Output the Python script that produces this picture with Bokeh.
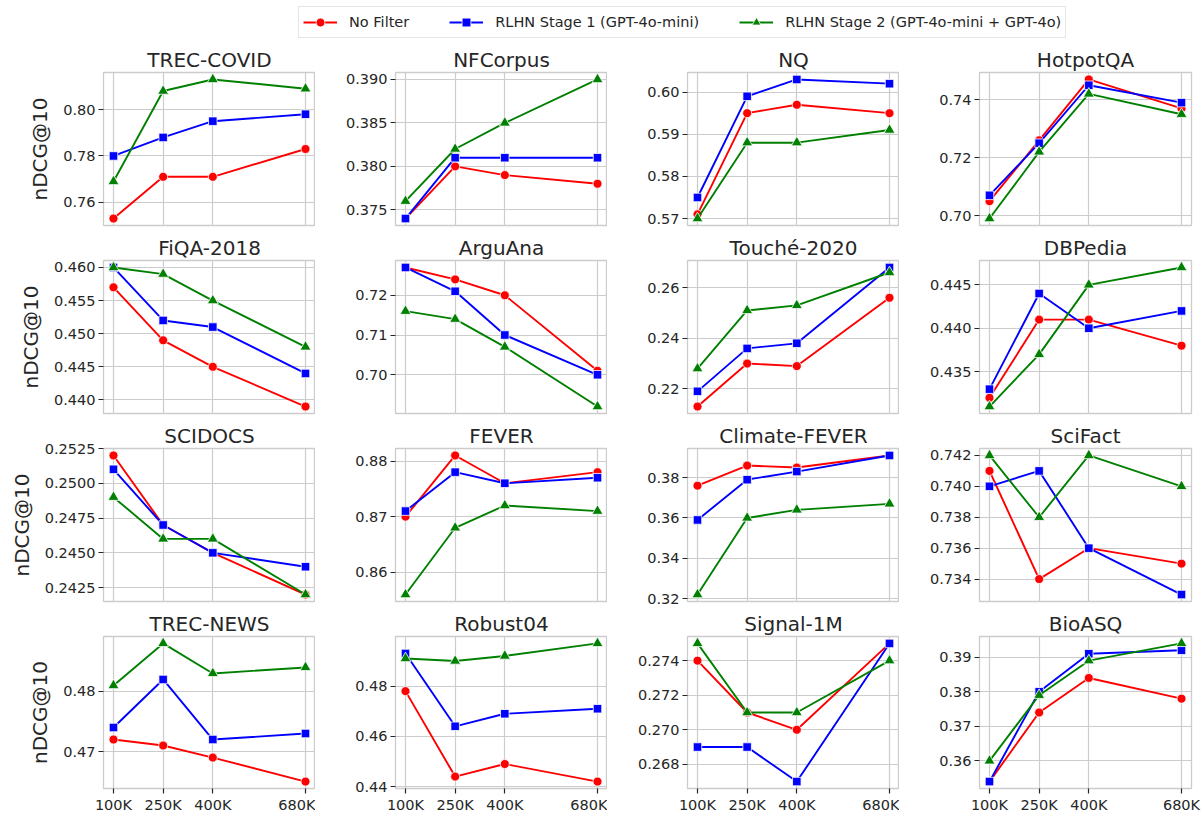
from bokeh.plotting import figure
from bokeh.layouts import gridplot, column
from bokeh.models import Range1d, DataRange1d, FixedTicker, Legend, LegendItem
from bokeh.embed import file_html
from bokeh.resources import INLINE

# ---------------- data ----------------
sizes = [100, 250, 400, 680]
size_labels = ["100K", "250K", "400K", "680K"]

datasets = ["TREC-COVID", "NFCorpus", "NQ", "HotpotQA",
            "FiQA-2018", "ArguAna", "Touché-2020", "DBPedia",
            "SCIDOCS", "FEVER", "Climate-FEVER", "SciFact",
            "TREC-NEWS", "Robust04", "Signal-1M", "BioASQ"]

no_filter = {
    "TREC-COVID": [0.753, 0.771, 0.771, 0.783],
    "NFCorpus": [0.374, 0.380, 0.379, 0.378],
    "NQ": [0.571, 0.595, 0.597, 0.595],
    "HotpotQA": [0.705, 0.726, 0.747, 0.737],
    "FiQA-2018": [0.457, 0.449, 0.445, 0.439],
    "ArguAna": [0.727, 0.724, 0.720, 0.701],
    "Touché-2020": [0.213, 0.230, 0.229, 0.256],
    "DBPedia": [0.432, 0.441, 0.441, 0.438],
    "SCIDOCS": [0.252, 0.247, 0.245, 0.242],
    "FEVER": [0.870, 0.881, 0.876, 0.878],
    "Climate-FEVER": [0.376, 0.386, 0.385, 0.391],
    "SciFact": [0.741, 0.734, 0.736, 0.735],
    "TREC-NEWS": [0.472, 0.471, 0.469, 0.465],
    "Robust04": [0.478, 0.444, 0.449, 0.442],
    "Signal-1M": [0.274, 0.271, 0.270, 0.275],
    "BioASQ": [0.354, 0.374, 0.384, 0.378],
}

stage1 = {
    "TREC-COVID": [0.780, 0.788, 0.795, 0.798],
    "NFCorpus": [0.374, 0.381, 0.381, 0.381],
    "NQ": [0.575, 0.599, 0.603, 0.602],
    "HotpotQA": [0.707, 0.725, 0.745, 0.739],
    "FiQA-2018": [0.460, 0.452, 0.451, 0.444],
    "ArguAna": [0.727, 0.721, 0.710, 0.700],
    "Touché-2020": [0.219, 0.236, 0.238, 0.268],
    "DBPedia": [0.433, 0.444, 0.440, 0.442],
    "SCIDOCS": [0.251, 0.247, 0.245, 0.244],
    "FEVER": [0.871, 0.878, 0.876, 0.877],
    "Climate-FEVER": [0.359, 0.379, 0.383, 0.391],
    "SciFact": [0.740, 0.741, 0.736, 0.733],
    "TREC-NEWS": [0.474, 0.482, 0.472, 0.473],
    "Robust04": [0.493, 0.464, 0.469, 0.471],
    "Signal-1M": [0.269, 0.269, 0.267, 0.275],
    "BioASQ": [0.354, 0.380, 0.391, 0.392],
}

stage2 = {
    "TREC-COVID": [0.769, 0.808, 0.813, 0.809],
    "NFCorpus": [0.376, 0.382, 0.385, 0.390],
    "NQ": [0.570, 0.588, 0.588, 0.591],
    "HotpotQA": [0.699, 0.722, 0.742, 0.735],
    "FiQA-2018": [0.460, 0.459, 0.455, 0.448],
    "ArguAna": [0.716, 0.714, 0.707, 0.692],
    "Touché-2020": [0.228, 0.251, 0.253, 0.266],
    "DBPedia": [0.431, 0.437, 0.445, 0.447],
    "SCIDOCS": [0.249, 0.246, 0.246, 0.242],
    "FEVER": [0.856, 0.868, 0.872, 0.871],
    "Climate-FEVER": [0.322, 0.360, 0.364, 0.367],
    "SciFact": [0.742, 0.738, 0.742, 0.740],
    "TREC-NEWS": [0.481, 0.488, 0.483, 0.484],
    "Robust04": [0.491, 0.490, 0.492, 0.497],
    "Signal-1M": [0.275, 0.271, 0.271, 0.274],
    "BioASQ": [0.360, 0.379, 0.389, 0.394],
}

y_tick_labels = {
    "TREC-COVID": ["0.76", "0.78", "0.80"],
    "NFCorpus": ["0.375", "0.380", "0.385", "0.390"],
    "NQ": ["0.57", "0.58", "0.59", "0.60"],
    "HotpotQA": ["0.70", "0.72", "0.74"],
    "FiQA-2018": ["0.440", "0.445", "0.450", "0.455", "0.460"],
    "ArguAna": ["0.70", "0.71", "0.72"],
    "Touché-2020": ["0.22", "0.24", "0.26"],
    "DBPedia": ["0.435", "0.440", "0.445"],
    "SCIDOCS": ["0.2425", "0.2450", "0.2475", "0.2500", "0.2525"],
    "FEVER": ["0.86", "0.87", "0.88"],
    "Climate-FEVER": ["0.32", "0.34", "0.36", "0.38"],
    "SciFact": ["0.734", "0.736", "0.738", "0.740", "0.742"],
    "TREC-NEWS": ["0.47", "0.48"],
    "Robust04": ["0.44", "0.46", "0.48"],
    "Signal-1M": ["0.268", "0.270", "0.272", "0.274"],
    "BioASQ": ["0.36", "0.37", "0.38", "0.39"],
}

series_names = ["No Filter", "RLHN Stage 1 (GPT-4o-mini)", "RLHN Stage 2 (GPT-4o-mini + GPT-4o)"]
series_data = [no_filter, stage1, stage2]
series_colors = ["#ff0000", "#0000ff", "#008000"]
series_markers = ["circle", "square", "triangle"]
series_sizes = [9, 8.5, 11]

# ---------------- styling ----------------
FONT = "DejaVu Sans"
TXT = "#262626"
GRID = "#cccccc"
TICK_FS = "14.5px"
PLOT_W = 212
PLOT_H = 156
TOP = 25
BOTTOM_MID = 7
BOTTOM_LAST = 26
COL_LEFT = [103, 80, 80, 80]
COL_RIGHT = [0, 0, 0, 10]
LEGEND_H = 44

figs = []
for i, name in enumerate(datasets):
    r, c = divmod(i, 4)
    last_row = (r == 3)
    bottom = BOTTOM_LAST if last_row else BOTTOM_MID
    w = COL_LEFT[c] + PLOT_W + COL_RIGHT[c]
    h = TOP + PLOT_H + bottom
    p = figure(width=w, height=h, output_backend="svg", toolbar_location=None,
               x_range=Range1d(69.8, 710.2), y_range=DataRange1d(range_padding=0.1),
               min_border_left=COL_LEFT[c], min_border_right=COL_RIGHT[c],
               min_border_top=TOP, min_border_bottom=bottom,
               title=name)
    p.title.align = "center"
    p.title.text_font = FONT
    p.title.text_font_size = "20px"
    p.title.text_font_style = "normal"
    p.title.text_color = TXT
    p.title.offset = 0
    p.title.standoff = 2
    p.background_fill_color = "white"
    p.border_fill_color = "white"
    p.outline_line_color = GRID
    p.outline_line_width = 1.3

    ticks = [float(t) for t in y_tick_labels[name]]
    p.yaxis.ticker = FixedTicker(ticks=ticks)
    p.yaxis.major_label_overrides = {float(t): t for t in y_tick_labels[name]}
    p.xaxis.ticker = FixedTicker(ticks=sizes)
    p.xaxis.major_label_overrides = {s: l for s, l in zip(sizes, size_labels)}
    for ax in (p.xaxis[0], p.yaxis[0]):
        ax.axis_line_color = None
        ax.major_tick_in = 0
        ax.major_tick_out = 5
        ax.major_tick_line_color = TXT
        ax.major_tick_line_width = 1.2
        ax.minor_tick_line_color = None
        ax.major_label_text_font = FONT
        ax.major_label_text_font_size = TICK_FS
        ax.major_label_text_color = TXT
        ax.major_label_standoff = 3
    if not last_row:
        p.xaxis.visible = False
    if c == 0:
        p.yaxis.axis_label = "nDCG@10"
        p.yaxis.axis_label_text_font = FONT
        p.yaxis.axis_label_text_font_size = "20px"
        p.yaxis.axis_label_text_font_style = "normal"
        p.yaxis.axis_label_text_color = TXT
        p.yaxis.axis_label_standoff = 8
    p.xgrid.grid_line_color = GRID
    p.ygrid.grid_line_color = GRID
    p.xgrid.grid_line_width = 1.2
    p.ygrid.grid_line_width = 1.2

    for data, col, mk, ms in zip(series_data, series_colors, series_markers, series_sizes):
        p.line(sizes, data[name], line_color=col, line_width=1.9)
        p.scatter(sizes, data[name], marker=mk, size=ms, fill_color=col,
                  line_color="white", line_width=0.8)
    figs.append(p)

grid = gridplot(figs, ncols=4, toolbar_location=None)

# ---------------- legend strip ----------------
total_w = sum(COL_LEFT) + 4 * PLOT_W + sum(COL_RIGHT)
lp = figure(width=total_w, height=LEGEND_H, output_backend="svg", toolbar_location=None,
            x_range=Range1d(0, 1), y_range=Range1d(0, 1),
            min_border=0, min_border_left=0, min_border_right=0,
            min_border_top=0, min_border_bottom=0)
lp.axis.visible = False
lp.grid.visible = False
lp.outline_line_color = None
items = []
for nm, col, mk, ms in zip(series_names, series_colors, series_markers, series_sizes):
    lr = lp.line([-5, -4], [-5, -4], line_color=col, line_width=1.9)
    sr = lp.scatter([-5], [-5], marker=mk, size=ms, fill_color=col,
                    line_color="white", line_width=0.8)
    items.append(LegendItem(label=nm, renderers=[lr, sr]))
leg = Legend(items=items, orientation="horizontal", location=(298, 6))
leg.label_text_font = FONT
leg.label_text_font_size = TICK_FS
leg.label_text_color = TXT
leg.border_line_color = GRID
leg.border_line_width = 1
leg.background_fill_color = "white"
leg.padding = 4
leg.spacing = 40
leg.margin = 0
leg.glyph_width = 34
leg.label_standoff = 12
leg.label_height = 16
leg.glyph_height = 22
lp.add_layout(leg, "center")

layout = column(lp, grid, spacing=0)

with open("out.html", "w") as f:
    f.write(file_html(layout, INLINE))
